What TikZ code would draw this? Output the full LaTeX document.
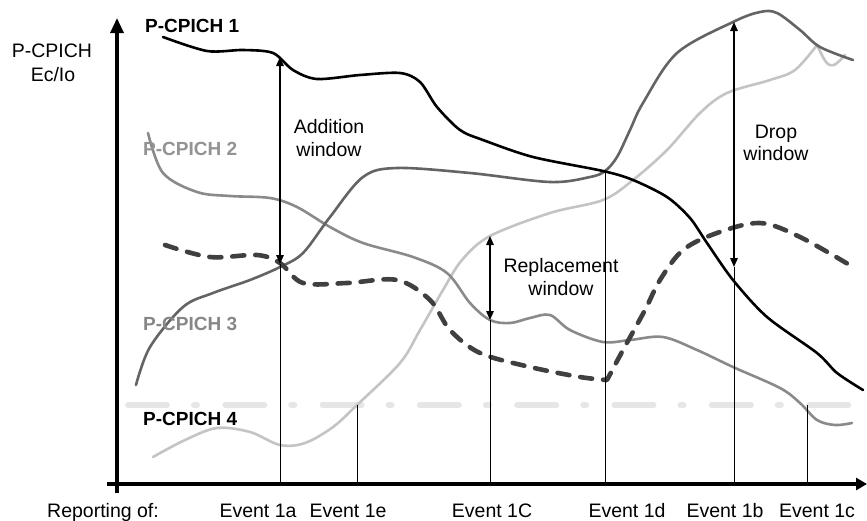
\documentclass[tikz,border=0pt]{standalone}
\usepackage{fontspec}
\setmainfont{Liberation Sans}
\usetikzlibrary{arrows.meta}
\definecolor{pilotA}{HTML}{000000}
\definecolor{pilotB}{HTML}{8A8A8A}
\definecolor{pilotC}{HTML}{646464}
\definecolor{pilotD}{HTML}{C4C4C4}
\definecolor{pilotX}{HTML}{404040}
\definecolor{threshold}{HTML}{E6E6E6}
\definecolor{lblB}{HTML}{939393}
\definecolor{lblC}{HTML}{878787}
\begin{document}
\begin{tikzpicture}[x=1pt,y=-1pt,
  curve/.style={line width=2.6pt, line join=round, line cap=round},
  evline/.style={line width=0.9pt},
  winarrow/.style={line width=1.4pt,
    {Triangle[length=9pt,width=7.5pt]}-{Triangle[length=9pt,width=7.5pt]}},
  axis/.style={line width=3.2pt},
  lbl/.style={font=\fontsize{19.5}{23}\selectfont, anchor=base, inner sep=0pt},
  chlbl/.style={font=\fontsize{19}{23}\selectfont\bfseries, anchor=base west, inner sep=0pt},
]
\fill[white] (0,0) rectangle (867,520);
\useasboundingbox (0,0) rectangle (867,520);

% threshold line (dash-dot)
\draw[threshold, line width=6pt, line cap=round,
      dash pattern=on 39pt off 27pt on 3pt off 28.3pt] (128,405) -- (849,405);

% pilot curves
\draw[curve, pilotD] plot[smooth, tension=0.55] coordinates {
  (153,457) (185,440) (217,428) (250,432) (280,445) (305,443) (333,427)
  (357,405) (400,363) (420,330) (443,290) (462,260) (490,236) (550,213)
  (603,200) (633,180) (667,150) (700,113) (727,93) (770,80) (795,70) (817,45)}
  -- plot[smooth, tension=0.6] coordinates {(817,45) (826,62) (834,65) (845,55)};

\draw[curve, pilotB] plot[smooth, tension=0.55] coordinates {
  (148,133) (163,173) (197,192) (230,196) (270,198) (297,207) (330,227)
  (363,243) (413,257) (447,273) (470,303) (490,320) (510,323) (530,318)
  (550,315) (570,330) (603,342) (630,340) (663,337) (697,350) (733,367)
  (780,388) (800,403) (817,420) (835,425) (852,423)};

\draw[curve, pilotC] plot[smooth, tension=0.55] coordinates {
  (136,385) (150,347) (183,307) (213,293) (250,280) (280,267) (303,253)
  (330,217) (363,177) (397,168) (470,173) (550,182) (590,177) (605,171)
  (617,157) (630,130) (643,103) (677,53) (733,22) (760,12) (777,13)
  (800,30) (820,47) (853,60)};

\draw[curve, pilotX, line width=4.6pt, dash pattern=on 12pt off 11pt]
  plot[smooth, tension=0.55] coordinates {
  (165,245) (210,257) (257,255) (280,263) (303,283) (347,283) (397,280)
  (430,300) (450,330) (480,353) (530,367) (580,377) (607,380)}
  -- plot[smooth, tension=0.55] coordinates {
  (607,380) (623,350) (645,310) (660,280) (683,250) (717,233) (760,223)
  (800,237) (853,267)};

\draw[curve, pilotA] plot[smooth, tension=0.5] coordinates {
  (163,37) (207,51) (243,50) (273,53) (293,70) (317,79) (360,75) (400,73)
  (420,82) (437,107) (460,130) (483,140) (533,157) (603,171) (633,180)
  (667,197) (690,218) (707,243) (733,280) (767,317) (817,353) (837,373)
  (863,390)};

% axes
\coordinate (yb) at (117,493);
\coordinate (yt) at (117,18);
\coordinate (xl) at (107,484);
\coordinate (xr) at (867,484);
\draw[axis, -{Triangle[length=15pt,width=13pt]}] (yb) -- (yt);
\draw[axis, -{Triangle[length=11pt,width=12pt]}] (xl) -- (xr);

% event markers
\coordinate (e1a) at (280,484);  \coordinate (e1at) at (280,57);  \coordinate (e1am) at (280,264);
\coordinate (e1e) at (357,484);  \coordinate (e1et) at (357,405);
\coordinate (e1C) at (490,484);  \coordinate (e1Ct) at (490,236); \coordinate (e1Cm) at (490,320);
\coordinate (e1d) at (605,484);  \coordinate (e1dt) at (605,171);
\coordinate (e1b) at (734,484);  \coordinate (e1bt) at (734,22);  \coordinate (e1bm) at (734,267);
\coordinate (e1c) at (807,484);  \coordinate (e1ct) at (807,405);

\draw[evline] (e1a) -- (e1am);
\draw[evline] (e1e) -- (e1et);
\draw[evline] (e1C) -- (e1Cm);
\draw[evline] (e1d) -- (e1dt);
\draw[evline] (e1b) -- (e1bm);
\draw[evline] (e1c) -- (e1ct);

\draw[winarrow] (e1at) -- (e1am);
\draw[winarrow] (e1Ct) -- (e1Cm);
\draw[winarrow] (e1bt) -- (e1bm);

% window labels
\node[lbl] (addA) at (329,133) {Addition};
\node[lbl] (addB) at (329,156) {window};
\node[lbl] (repA) at (561,272) {Replacement};
\node[lbl] (repB) at (561,295) {window};
\node[lbl] (dropA) at (776,138) {Drop};
\node[lbl] (dropB) at (776,160) {window};

% axis title
\node[lbl] (ytA) at (52,57) {P-CPICH};
\node[lbl] (ytB) at (53,81) {Ec/Io};

% pilot labels
\node[chlbl, pilotA] (l1) at (145,32) {P-CPICH 1};
\node[chlbl, lblB] (l2) at (143,155) {P-CPICH 2};
\node[chlbl, lblC] (l3) at (143,330) {P-CPICH 3};
\node[chlbl, pilotA] (l4) at (143,425) {P-CPICH 4};

% reporting row
\node[lbl] (rep) at (103,517) {Reporting of:};
\node[lbl] (t1a) at (258,517) {Event 1a};
\node[lbl] (t1e) at (348,517) {Event 1e};
\node[lbl] (t1C) at (492,517) {Event 1C};
\node[lbl] (t1d) at (627,517) {Event 1d};
\node[lbl] (t1b) at (725,517) {Event 1b};
\node[lbl] (t1c) at (817,517) {Event 1c};
\end{tikzpicture}
\end{document}
